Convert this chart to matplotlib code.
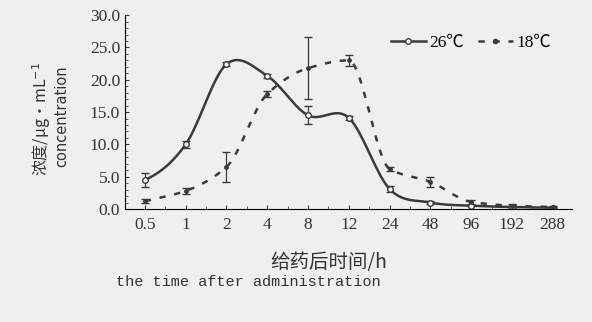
import numpy as np
import matplotlib.pyplot as plt

plt.rcParams['font.family'] = ['Liberation Serif', 'Noto Sans CJK SC', 'DejaVu Sans']

times = ['0.5', '1', '2', '4', '8', '12', '24', '48', '96', '192', '288']
c26 = [4.5, 10.0, 22.4, 20.6, 14.5, 14.1, 3.1, 1.0, 0.5, 0.3, 0.2]
e26 = [1.1, 0.5, 0.3, 0.3, 1.4, 0.3, 0.4, 0.2, 0.1, 0.1, 0.1]
c18 = [1.2, 2.8, 6.5, 17.8, 21.8, 23.0, 6.2, 4.2, 1.1, 0.5, 0.3]
e18 = [0.3, 0.5, 2.3, 0.4, 4.8, 0.9, 0.3, 0.8, 0.3, 0.2, 0.1]


def smooth(y, n=20):
    # catmull-rom through the points, only for drawing the curve
    y = np.asarray(y, float)
    p = np.concatenate([[y[0]], y, [y[-1]]])
    xs, ys = [], []
    for i in range(len(y) - 1):
        p0, p1, p2, p3 = p[i], p[i + 1], p[i + 2], p[i + 3]
        t = np.linspace(0, 1, n, endpoint=False)
        v = 0.5 * (2 * p1 + (-p0 + p2) * t + (2 * p0 - 5 * p1 + 4 * p2 - p3) * t ** 2
                   + (-p0 + 3 * p1 - 3 * p2 + p3) * t ** 3)
        xs.append(i + t)
        ys.append(v)
    xs.append([len(y) - 1])
    ys.append([y[-1]])
    return np.concatenate(xs), np.concatenate(ys)


def smooth_mono(y, n=20):
    # monotone hermite curve (no overshoot), only for drawing
    y = np.asarray(y, float)
    d = np.diff(y)
    m = np.zeros_like(y)
    m[0], m[-1] = d[0], d[-1]
    for i in range(1, len(y) - 1):
        if d[i - 1] * d[i] > 0:
            m[i] = 2 / (1 / d[i - 1] + 1 / d[i])
    xs, ys = [], []
    for i in range(len(y) - 1):
        t = np.linspace(0, 1, n, endpoint=False)
        h00 = 2 * t ** 3 - 3 * t ** 2 + 1
        h10 = t ** 3 - 2 * t ** 2 + t
        h01 = -2 * t ** 3 + 3 * t ** 2
        h11 = t ** 3 - t ** 2
        xs.append(i + t)
        ys.append(h00 * y[i] + h10 * m[i] + h01 * y[i + 1] + h11 * m[i + 1])
    xs.append([len(y) - 1])
    ys.append([y[-1]])
    return np.concatenate(xs), np.concatenate(ys)


x = np.arange(len(times))
fig = plt.figure(figsize=(5.92, 3.22), dpi=100)
fig.patch.set_facecolor('#efefef')
ax = fig.add_axes([0.211, 0.351, 0.755, 0.602])
ax.set_facecolor('#efefef')

col = '#3a3a3a'
dash = (0, (2.5, 3.5))
sx, sy = smooth(c26)
ax.plot(sx, sy, color=col, lw=1.8)
ax.errorbar(x, c26, yerr=e26, fmt='o', ms=4, mfc='white', mec=col, mew=1,
            ecolor=col, elinewidth=0.9, capsize=3)
sx, sy = smooth_mono(c18)
ax.plot(sx, sy, color=col, lw=1.8, ls=dash)
ax.errorbar(x, c18, yerr=e18, fmt='o', ms=2.5, mfc=col, mec=col,
            ecolor=col, elinewidth=0.9, capsize=3)

ax.plot([], [], color=col, lw=1.8, marker='o', ms=4, mfc='white', label='26℃')
ax.plot([], [], color=col, lw=1.8, ls=dash, marker='o', ms=3, label='18℃')
ax.legend(loc='upper right', bbox_to_anchor=(0.98, 0.96), ncol=2, frameon=False,
          fontsize=12.5, handlelength=2.0, handletextpad=0.2, columnspacing=0.8,
          borderpad=0.2)

ax.set_xlim(-0.49, 10.47)
ax.set_ylim(0, 30)
ax.set_xticks(x)
ax.set_xticklabels(times)
ax.set_xticks(x[:-1] + 0.5, minor=True)
ax.set_yticks(np.arange(0, 31, 5))
ax.set_yticklabels(['%.1f' % v for v in np.arange(0, 31, 5)])
ax.set_yticks(np.arange(0, 31, 1), minor=True)
for s in ['top', 'right']:
    ax.spines[s].set_visible(False)
ax.tick_params(colors=col, labelsize=12.5, length=3, direction='in', labelcolor='#333')
ax.tick_params(which='minor', length=2, direction='in', color=col)
ax.tick_params(axis='x', pad=6)

fig.text(0.556, 0.186, '给药后时间/h', ha='center', va='center', fontsize=14,
         color='#333', family=['Noto Sans CJK SC', 'DejaVu Sans'])
fig.text(0.42, 0.125, 'the time after administration', ha='center', va='center',
         fontsize=11, color='#333', family=['Liberation Mono'])
fig.text(0.07, 0.63, '浓度/μg·mL$^{-1}$', rotation=90, ha='center', va='center',
         fontsize=11.5, color='#333', family=['Noto Sans CJK SC', 'DejaVu Sans'])
fig.text(0.105, 0.64, 'concentration', rotation=90, ha='center', va='center',
         fontsize=10.5, color='#333', family=['DejaVu Sans'])

fig.savefig('out.png', dpi=100, facecolor=fig.get_facecolor())
